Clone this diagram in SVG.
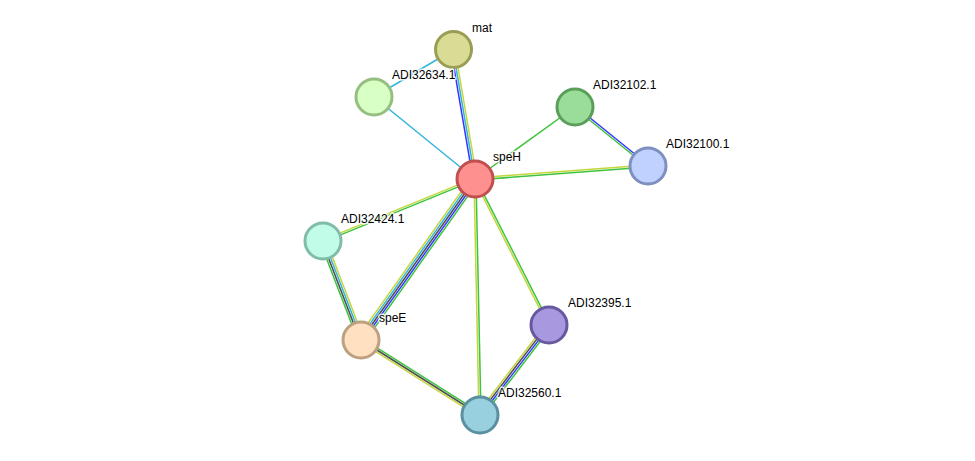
<svg xmlns="http://www.w3.org/2000/svg" width="975" height="461" viewBox="0 0 975 461">
<style>
.e line{stroke-width:1.5;fill:none}
.g{stroke:#3dc43d}.y{stroke:#c4d63e}.b{stroke:#3535ff}.c{stroke:#33b5dd}.k{stroke:#4d4d4d}
.n circle{stroke-width:3}
.n text{font-family:"Liberation Sans",Arial,sans-serif;font-size:12px;fill:#000;stroke:#fff;stroke-width:3;stroke-opacity:0.8;paint-order:stroke;stroke-linejoin:round}
</style>
<rect width="975" height="461" fill="#fff"/>
<g id="connectors" class="e">
<line class="c" x1="453" y1="50" x2="374" y2="97"/>
<line class="c" x1="374" y1="97" x2="475" y2="179"/>
<line class="b" x1="451.03" y1="50.34" x2="473.03" y2="179.34"/>
<line class="c" x1="453" y1="50" x2="475" y2="179"/>
<line class="y" x1="454.97" y1="49.66" x2="476.97" y2="178.66"/>
<line class="g" x1="575" y1="107" x2="475" y2="179"/>
<line class="b" x1="575.63" y1="106.22" x2="648.63" y2="165.22"/>
<line class="g" x1="574.37" y1="107.78" x2="647.37" y2="166.78"/>
<line class="y" x1="474.93" y1="178" x2="647.93" y2="165"/>
<line class="g" x1="475.07" y1="180" x2="648.07" y2="167"/>
<line class="y" x1="474.62" y1="178.07" x2="322.62" y2="240.07"/>
<line class="g" x1="475.38" y1="179.93" x2="323.38" y2="241.93"/>
<line class="y" x1="471.74" y1="176.69" x2="357.74" y2="337.69"/>
<line class="c" x1="473.37" y1="177.84" x2="359.37" y2="338.84"/>
<line class="k" x1="475" y1="179" x2="361" y2="340"/>
<line class="b" x1="476.63" y1="180.16" x2="362.63" y2="341.16"/>
<line class="g" x1="478.26" y1="181.31" x2="364.26" y2="342.31"/>
<line class="y" x1="474" y1="179" x2="479" y2="415"/>
<line class="g" x1="476" y1="179" x2="481" y2="415"/>
<line class="y" x1="474.11" y1="179.45" x2="548.11" y2="325.45"/>
<line class="g" x1="475.89" y1="178.55" x2="549.89" y2="324.55"/>
<line class="g" x1="320.2" y1="242.07" x2="358.2" y2="341.07"/>
<line class="k" x1="322.07" y1="241.36" x2="360.07" y2="340.36"/>
<line class="c" x1="323.93" y1="240.64" x2="361.93" y2="339.64"/>
<line class="y" x1="325.8" y1="239.93" x2="363.8" y2="338.93"/>
<line class="g" x1="362.07" y1="338.31" x2="481.07" y2="413.31"/>
<line class="k" x1="361" y1="340" x2="480" y2="415"/>
<line class="y" x1="359.93" y1="341.69" x2="478.93" y2="416.69"/>
<line class="y" x1="546.62" y1="323.18" x2="477.62" y2="413.18"/>
<line class="k" x1="548.21" y1="324.39" x2="479.21" y2="414.39"/>
<line class="b" x1="549.79" y1="325.61" x2="480.79" y2="415.61"/>
<line class="g" x1="551.38" y1="326.82" x2="482.38" y2="416.82"/>
</g>
<g id="mat" class="n"><circle cx="453.5" cy="49.5" r="18" fill="#d8dc94" stroke="#9a9e55"/><text x="472" y="32">mat</text></g>
<g id="ADI32634.1" class="n"><circle cx="374" cy="97" r="18" fill="#d8ffc4" stroke="#95be80"/><text x="392" y="79">ADI32634.1</text></g>
<g id="ADI32102.1" class="n"><circle cx="575" cy="107" r="18" fill="#99dd99" stroke="#5a9e5a"/><text x="593" y="89">ADI32102.1</text></g>
<g id="ADI32100.1" class="n"><circle cx="648" cy="166" r="18" fill="#c0d0ff" stroke="#7f90c0"/><text x="666" y="148">ADI32100.1</text></g>
<g id="speH" class="n"><circle cx="475" cy="179" r="18" fill="#ff9090" stroke="#c05050"/><text x="493" y="161">speH</text></g>
<g id="ADI32424.1" class="n"><circle cx="323" cy="241" r="18" fill="#c0fce8" stroke="#80bca8"/><text x="341" y="223">ADI32424.1</text></g>
<g id="speE" class="n"><circle cx="361" cy="340" r="18" fill="#ffe0c0" stroke="#bca080"/><text x="379" y="322">speE</text></g>
<g id="ADI32395.1" class="n"><circle cx="549" cy="325" r="18" fill="#a898e0" stroke="#6858a0"/><text x="568" y="307">ADI32395.1</text></g>
<g id="ADI32560.1" class="n"><circle cx="480" cy="415" r="18" fill="#99d0e0" stroke="#5a90a0"/><text x="498" y="397">ADI32560.1</text></g>
</svg>
